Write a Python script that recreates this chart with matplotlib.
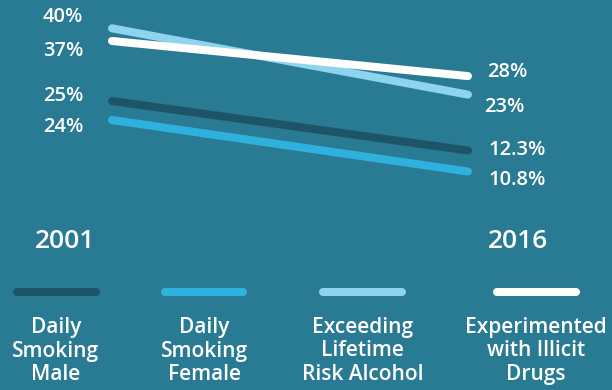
import matplotlib.pyplot as plt
import matplotlib.transforms as mtransforms
from matplotlib.lines import Line2D

# data
years = [2001, 2016]
series = ["Daily\nSmoking\nMale", "Daily\nSmoking\nFemale",
          "Exceeding\nLifetime\nRisk Alcohol", "Experimented\nwith Illicit\nDrugs"]
start_vals = [25, 24, 40, 37]
end_vals = [12.3, 10.8, 23, 28]
start_labels = ["25%", "24%", "40%", "37%"]
end_labels = ["12.3%", "10.8%", "23%", "28%"]

# style
bg = "#297b94"
colors = ["#1d5468", "#2eb2dd", "#8fd4ee", "#ffffff"]
stagger = [-9.7, -20.6, 0.5, -0.2]          # vertical stagger of each line (pt)
lab_dy_start = [5, -7, 11, -10]             # label nudges (px)
lab_dy_end = [1, -8.5, -12, 4]
lab_dx_end = [21, 21, 16, 19]

plt.rcParams['font.family'] = ['Open Sans', 'DejaVu Sans']

fig = plt.figure(figsize=(6.12, 3.9), dpi=100, facecolor=bg)
ax = fig.add_axes([0, 0, 1, 1])
ax.set_facecolor(bg)
ax.set_xlim(1996.28, 2022.07)
ax.set_ylim(-52.56, 47.44)
ax.axis("off")

px = 72 / fig.dpi
for i in range(len(series)):
    tr = mtransforms.offset_copy(ax.transData, fig=fig, x=0, y=stagger[i], units="points")
    ax.plot(years, [start_vals[i], end_vals[i]], color=colors[i], lw=5.8,
            solid_capstyle="round", transform=tr, zorder=3)
    ax.annotate(start_labels[i], (years[0], start_vals[i]), xycoords=tr,
                xytext=(-29 * px, lab_dy_start[i] * px), textcoords="offset points",
                ha="right", va="center", color="white", fontsize=14.5, fontweight="semibold")
    ax.annotate(end_labels[i], (years[1], end_vals[i]), xycoords=tr,
                xytext=(lab_dx_end[i] * px, lab_dy_end[i] * px), textcoords="offset points",
                ha="left", va="center", color="white", fontsize=14.5, fontweight="semibold")

# year captions
fig.text(65 / 612, 1 - 242 / 390, str(years[0]), ha="center", va="center",
         color="white", fontsize=19, fontweight="semibold")
fig.text(517.5 / 612, 1 - 242 / 390, str(years[1]), ha="center", va="center",
         color="white", fontsize=19, fontweight="semibold")

# legend
centers = [56, 204, 362.5, 536]
for c, name, col in zip(centers, series, colors):
    fig.add_artist(Line2D([(c - 39.5) / 612, (c + 39.5) / 612], [1 - 292 / 390] * 2,
                          color=col, lw=5.8, solid_capstyle="round"))
    fig.text(c / 612, 1 - 351 / 390, name, ha="center", va="center", color="white",
             fontsize=15, fontweight="semibold", linespacing=1.15)

fig.savefig("out.png", dpi=100, facecolor=bg)
